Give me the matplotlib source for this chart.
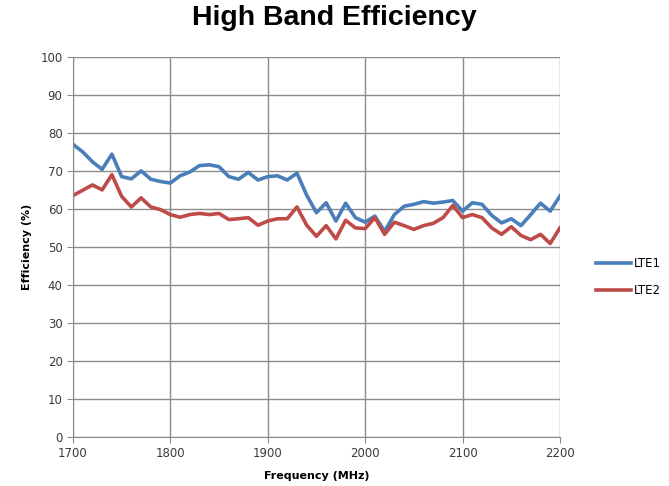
import numpy as np
import matplotlib
matplotlib.use("Agg")
import matplotlib.pyplot as plt

# frecuencias cada 10 MHz
freq = list(range(1700, 2201, 10))

lte1 = [77.0, 75.0, 72.4, 70.4, 74.4, 68.5, 67.9, 70.0, 67.8, 67.2,
        66.8, 68.7, 69.7, 71.4, 71.6, 71.1, 68.5, 67.8, 69.6, 67.6,
        68.5, 68.7, 67.6, 69.4, 63.6, 59.0, 61.6, 56.8, 61.5, 57.7,
        56.5, 58.1, 54.1, 58.5, 60.7, 61.2, 61.9, 61.5, 61.8, 62.2,
        59.4, 61.6, 61.2, 58.3, 56.3, 57.4, 55.6, 58.5, 61.5, 59.4,
        63.4]

lte2 = [63.5, 64.9, 66.3, 65.0, 69.0, 63.3, 60.5, 62.9, 60.5, 59.8,
        58.5, 57.8, 58.5, 58.8, 58.5, 58.8, 57.2, 57.4, 57.7, 55.7,
        56.8, 57.4, 57.4, 60.5, 55.7, 52.8, 55.6, 52.1, 57.0, 55.0,
        54.8, 57.7, 53.3, 56.5, 55.6, 54.6, 55.6, 56.2, 57.7, 60.9,
        57.7, 58.5, 57.7, 55.0, 53.3, 55.3, 53.0, 51.9, 53.3, 50.9,
        55.0]

fig = plt.figure(figsize=(6.69, 4.86), dpi=100)
ax = fig.add_axes([0.109, 0.101, 0.728, 0.782])

ax.plot(freq, lte1, color="#4a7ebb", lw=2.6, label="LTE1", solid_joinstyle="round")
ax.plot(freq, lte2, color="#be4b48", lw=2.6, label="LTE2", solid_joinstyle="round")

ax.set_xlim(1700, 2200)
ax.set_ylim(0, 100)
ax.set_xticks(range(1700, 2201, 100))
ax.set_yticks(range(0, 101, 10))
ax.grid(True, color="#8c8c8c", lw=1)
ax.set_axisbelow(True)
for s in ["top", "right"]:
    ax.spines[s].set_visible(False)
for s in ["left", "bottom"]:
    ax.spines[s].set_color("#8c8c8c")
ax.tick_params(colors="#8c8c8c", labelcolor="#3a3a3a", labelsize=8.5, length=4)

ax.set_xlabel("Frequency (MHz)", fontsize=8, fontweight="bold", labelpad=8)
ax.set_ylabel("Efficiency (%)", fontsize=8, fontweight="bold", labelpad=6)

fig.suptitle("High Band Efficiency", fontsize=20.5, fontweight="bold",
             family="Liberation Sans", y=0.99)

fig.legend(loc="center left", bbox_to_anchor=(0.875, 0.43), frameon=False,
           fontsize=8.5, handlelength=3.0, handletextpad=0.2, labelspacing=1.2)

plt.savefig("out.png")
